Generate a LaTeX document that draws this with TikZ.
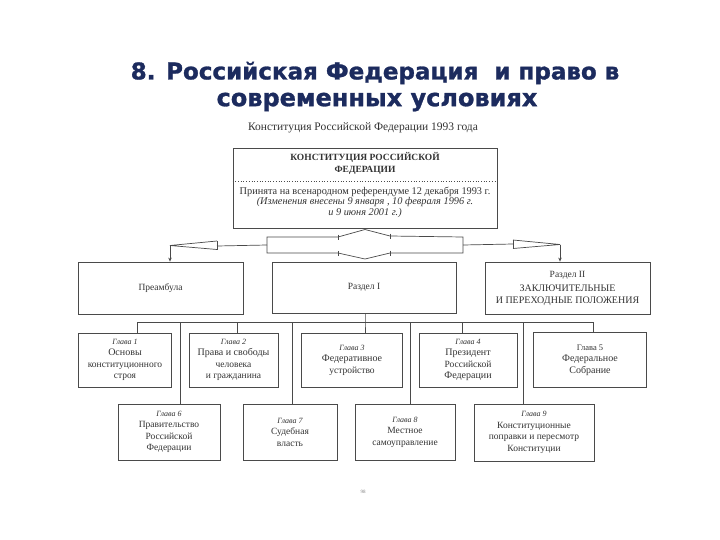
\documentclass[tikz,border=0pt]{standalone}
\usepackage{fontspec}
\setmainfont{Liberation Serif}
\newfontfamily\titlefont[BoldFeatures={FakeBold=1.2}]{DejaVu Sans}
\usetikzlibrary{arrows.meta}
\definecolor{ttl}{HTML}{1C2B5E}
\definecolor{ln}{HTML}{4A4A4A}
\definecolor{tx}{HTML}{333333}
\newcommand{\glv}[1]{{\itshape\fontsize{8}{12}\selectfont #1}}
\newcommand{\bgl}[1]{{\fontsize{10}{12}\selectfont #1}}
\begin{document}
\begin{tikzpicture}[x=1pt,y=-1pt,
  box/.style={draw=ln, line width=0.8pt, inner sep=0pt, align=center, text=tx,
    font=\fontsize{9.5}{11.5}\selectfont},
  wire/.style={draw=ln, line width=0.7pt},
  arr/.style={wire, -{Stealth[length=4pt,width=3.5pt]}},
  lbl/.style={inner sep=0pt, align=center, text=tx}]
\useasboundingbox (0,0) rectangle (720,540);
\fill[white] (0,0) rectangle (720,540);
% title
\node[lbl, text=ttl, font=\titlefont\bfseries\fontsize{23}{30}\selectfont] (t1) at (375,73) {8. Российская Федерация\ \ и право в};
\node[lbl, text=ttl, font=\titlefont\bfseries\fontsize{24}{30}\selectfont] (t2) at (377,102) {современных условиях};
\node[lbl, font=\fontsize{11.5}{13}\selectfont] (sub) at (363,128) {Конституция Российской Федерации 1993 года};
% constitution box
\node[box, minimum width=264pt, minimum height=80pt] (const) at (365,188) {};
\node[lbl, font=\bfseries\fontsize{9.5}{12}\selectfont] (ct) at (365,163) {КОНСТИТУЦИЯ РОССИЙСКОЙ\\ФЕДЕРАЦИИ};
\draw[wire, dotted] (const.west |- 0,181) -- (const.east |- 0,181);
\node[lbl, font=\fontsize{10.3}{10.5}\selectfont] (cd) at (365,202) {Принята на всенародном референдуме 12 декабря 1993 г.\\ \itshape (Изменения внесены 9 января , 10 февраля 1996 г.\\ \itshape и 9 июня 2001 г.)};
% row 1
\node[box, minimum width=165pt, minimum height=52pt] (pre) at (160.5,288) {Преамбула};
\node[box, minimum width=184pt, minimum height=51pt] (r1) at (364,287.5) {Раздел I};
\node[box, minimum width=165pt, minimum height=52pt] (r2) at (567.5,288) {Раздел II\\[3pt]{\fontsize{10}{11}\selectfont ЗАКЛЮЧИТЕЛЬНЫЕ}\\{\fontsize{10}{11}\selectfont И ПЕРЕХОДНЫЕ ПОЛОЖЕНИЯ}};
% brace connector
\coordinate (bl) at (267,245);
\coordinate (br) at (463,245);
\coordinate (la) at (170,245.5);
\coordinate (ra) at (560,244.5);
\draw[wire] (267,253) -- (267,237) -- (338,237) -- (365,229.5) -- (390,236) -- (463,237) -- (463,253) -- (390,253) -- (365,259) -- (338,253) -- cycle;
\draw[wire] (338,234.5) -- (338,239.5);
\draw[wire] (390,233.5) -- (390,238.5);
\draw[wire] (338,251) -- (338,255.5);
\draw[wire] (390,250.5) -- (390,255.5);
\draw[wire] (bl) -- (217,246);
\draw[wire] (217,241) -- (217,249.5);
\draw[wire] (217,241) -- (la) -- (217,249.5);
\draw[wire] (br) -- (513,244);
\draw[wire] (513,240) -- (513,248.5);
\draw[wire] (513,240) -- (ra) -- (513,248.5);
\draw[arr] (la) -- (la |- pre.north);
\draw[arr] (ra) -- (ra |- r2.north);
% row 2
\node[box, minimum width=93pt, minimum height=54pt] (g1) at (125,360) {\glv{Глава 1}\\\bgl{Основы}\\конституционного\\строя};
\node[box, minimum width=89pt, minimum height=54pt] (g2) at (233.5,360) {\glv{Глава 2}\\\bgl{Права и свободы}\\человека\\и гражданина};
\node[box, minimum width=101pt, minimum height=54pt] (g3) at (352,360) {\glv{Глава 3}\\\bgl{Федеративное}\\устройство};
\node[box, minimum width=98pt, minimum height=54pt] (g4) at (468,360) {\glv{Глава 4}\\\bgl{Президент}\\Российской\\\bgl{Федерации}};
\node[box, minimum width=113pt, minimum height=55pt] (g5) at (590,360) {{\fontsize{8.5}{12}\selectfont Глава 5}\\\bgl{Федеральное}\\\bgl{Собрание}};
% row 3
\node[box, minimum width=102pt, minimum height=56pt] (g6) at (169,432) {\glv{Глава 6}\\Правительство\\Российской\\Федерации};
\node[box, minimum width=94pt, minimum height=56pt] (g7) at (290,432) {\glv{Глава 7}\\Судебная\\власть};
\node[box, minimum width=100pt, minimum height=56pt] (g8) at (405,432) {\glv{Глава 8}\\Местное\\самоуправление};
\node[box, minimum width=120pt, minimum height=57pt] (g9) at (534,432.5) {\glv{Глава 9}\\Конституционные\\поправки и пересмотр\\Конституции};
% bus
\coordinate (b1) at (137,322);
\coordinate (b5) at (593,322);
\coordinate (bm) at (365,322);
\draw[wire] (b1) -- (b5);
\draw[wire] (r1.south -| bm) -- (bm) -- (bm |- g3.north);
\draw[wire] (b1) -- (b1 |- g1.north);
\draw[wire] (237,322) -- (237,322 |- g2.north);
\draw[wire] (462,322) -- (462,322 |- g4.north);
\draw[wire] (b5) -- (b5 |- g5.north);
\draw[wire] (180,322) -- (180,322 |- g6.north);
\draw[wire] (292,322) -- (292,322 |- g7.north);
\draw[wire] (410,322) -- (410,322 |- g8.north);
\draw[wire] (523,322) -- (523,322 |- g9.north);
\node[lbl, text=black!50, font=\fontsize{5}{6}\selectfont] (pg) at (363,492) {98};
\end{tikzpicture}
\end{document}
